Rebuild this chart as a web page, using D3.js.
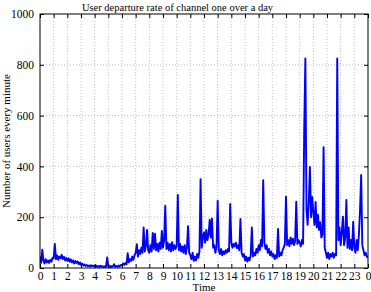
<!DOCTYPE html>
<html><head><meta charset="utf-8">
<script src="https://cdn.jsdelivr.net/npm/d3@7"></script>
<style>body{margin:0;background:#fff}svg{display:block}</style>
</head><body>
<script>
// Users leaving per 5-minute step (value per minute), 12 values per hour, hours 0..23, plus end point
const hour00 = [45, 20, 72, 30, 18, 35, 22, 30, 20, 32, 25, 40];
const hour01 = [38, 95, 35, 50, 32, 45, 38, 52, 35, 44, 30, 40];
const hour02 = [28, 38, 25, 34, 22, 30, 18, 28, 20, 26, 15, 22];
const hour03 = [12, 18, 10, 14, 8, 12, 7, 10, 6, 11, 7, 9];
const hour04 = [6, 10, 5, 8, 4, 9, 5, 7, 4, 6, 5, 42];
const hour05 = [5, 3, 8, 4, 6, 15, 5, 8, 4, 10, 6, 12];
const hour06 = [10, 18, 12, 20, 15, 58, 22, 35, 28, 45, 32, 50];
const hour07 = [60, 94, 45, 70, 55, 80, 60, 160, 65, 85, 150, 70];
const hour08 = [60, 90, 65, 138, 75, 135, 70, 95, 65, 100, 75, 146];
const hour09 = [80, 110, 245, 75, 100, 70, 95, 65, 102, 70, 90, 75];
const hour10 = [85, 288, 70, 95, 65, 85, 60, 90, 55, 80, 165, 60];
const hour11 = [50, 35, 60, 28, 45, 30, 55, 40, 65, 350, 80, 120];
const hour12 = [140, 100, 150, 110, 130, 190, 120, 195, 80, 90, 60, 85];
const hour13 = [265, 70, 55, 75, 50, 65, 55, 70, 60, 75, 65, 252];
const hour14 = [100, 80, 95, 85, 100, 78, 90, 70, 193, 60, 45, 55];
const hour15 = [30, 45, 25, 40, 30, 50, 160, 45, 60, 50, 75, 60];
const hour16 = [90, 70, 110, 85, 346, 100, 75, 90, 60, 75, 50, 65];
const hour17 = [45, 55, 35, 50, 40, 154, 45, 60, 50, 70, 80, 95];
const hour18 = [281, 90, 110, 85, 120, 95, 115, 90, 105, 261, 95, 110];
const hour19 = [100, 85, 110, 95, 547, 825, 230, 170, 260, 398, 200, 280];
const hour20 = [220, 170, 260, 160, 210, 150, 180, 120, 130, 476, 80, 60];
const hour21 = [40, 60, 35, 55, 45, 60, 40, 55, 50, 825, 110, 160];
const hour22 = [90, 140, 202, 90, 120, 268, 80, 160, 75, 110, 70, 182];
const hour23 = [80, 60, 110, 70, 130, 228, 366, 90, 70, 50, 60, 45];
const endValue = [40];

const xTicks = d3.range(0, 25);
const yTicks = [0, 200, 400, 600, 800, 1000];
const titleText = "User departure rate of channel one over a day";
const xLabel = "Time";
const yLabel = "Number of users every minute";

const values = [].concat(hour00,hour01,hour02,hour03,hour04,hour05,hour06,hour07,hour08,hour09,hour10,hour11,
  hour12,hour13,hour14,hour15,hour16,hour17,hour18,hour19,hour20,hour21,hour22,hour23,endValue);
const data = values.map((v,i)=>({t:i/12, v}));

const FONT = "'Liberation Serif', 'Times New Roman', serif";
const W=371,H=292, m={l:40,r:3,t:14,b:24};
const svg=d3.select("body").append("svg").attr("width",W).attr("height",H).style("font-family",FONT);
const x=d3.scaleLinear().domain([0,24]).range([m.l,W-m.r]);
const y=d3.scaleLinear().domain([0,1000]).range([H-m.b,m.t]);

// grid
const g=svg.append("g");
g.selectAll("line.vx").data(xTicks.slice(1,-1)).join("line")
 .attr("x1",d=>x(d)).attr("x2",d=>x(d)).attr("y1",y(0)).attr("y2",y(1000))
 .attr("stroke","#b0b0b0").attr("stroke-width",0.8).attr("stroke-dasharray","1,2");
g.selectAll("line.hy").data(yTicks.slice(1,-1)).join("line")
 .attr("x1",x(0)).attr("x2",x(24)).attr("y1",d=>y(d)).attr("y2",d=>y(d))
 .attr("stroke","#b0b0b0").attr("stroke-width",0.8).attr("stroke-dasharray","1,2");

// data line
svg.append("clipPath").attr("id","c").append("rect")
 .attr("x",x(0)).attr("y",y(1000)).attr("width",x(24)-x(0)).attr("height",y(0)-y(1000));
svg.append("path").datum(data).attr("clip-path","url(#c)")
 .attr("fill","none").attr("stroke","#0000ff").attr("stroke-width",1.9).attr("stroke-linejoin","round")
 .attr("d",d3.line().x(d=>x(d.t)).y(d=>y(d.v)));

// axes (ticks inward)
const xb=svg.append("g").attr("transform",`translate(0,${y(0)})`)
 .call(d3.axisBottom(x).tickValues(xTicks).tickFormat(d=>String(d%24)).tickSizeInner(-4).tickSizeOuter(0).tickPadding(4));
const xt=svg.append("g").attr("transform",`translate(0,${y(1000)})`)
 .call(d3.axisTop(x).tickValues(xTicks).tickFormat("").tickSizeInner(-4).tickSizeOuter(0));
const yl=svg.append("g").attr("transform",`translate(${x(0)},0)`)
 .call(d3.axisLeft(y).tickValues(yTicks).tickFormat(d3.format("d")).tickSizeInner(-4).tickSizeOuter(0).tickPadding(6));
const yr=svg.append("g").attr("transform",`translate(${x(24)},0)`)
 .call(d3.axisRight(y).tickValues(yTicks).tickFormat("").tickSizeInner(-4).tickSizeOuter(0));
[xb,xt,yl,yr].forEach(a=>{a.select(".domain").remove();a.attr("font-family",null).attr("font-size",null);
  a.selectAll("text").style("font-family",FONT).style("font-size","11.5px");a.selectAll("line").attr("stroke","#000");});

// frame
svg.append("rect").attr("x",x(0)).attr("y",y(1000)).attr("width",x(24)-x(0)).attr("height",y(0)-y(1000))
 .attr("fill","none").attr("stroke","#000").attr("stroke-width",1);

svg.append("text").attr("x",177.5).attr("y",10.5).attr("text-anchor","middle").style("font-size","10.5px").text(titleText);
svg.append("text").attr("x",x(12)).attr("y",291).attr("text-anchor","middle").style("font-size","11px").text(xLabel);
svg.append("text").attr("transform",`translate(10,${(y(0)+y(1000))/2}) rotate(-90)`).attr("text-anchor","middle").style("font-size","11px").text(yLabel);
</script>
</body></html>
